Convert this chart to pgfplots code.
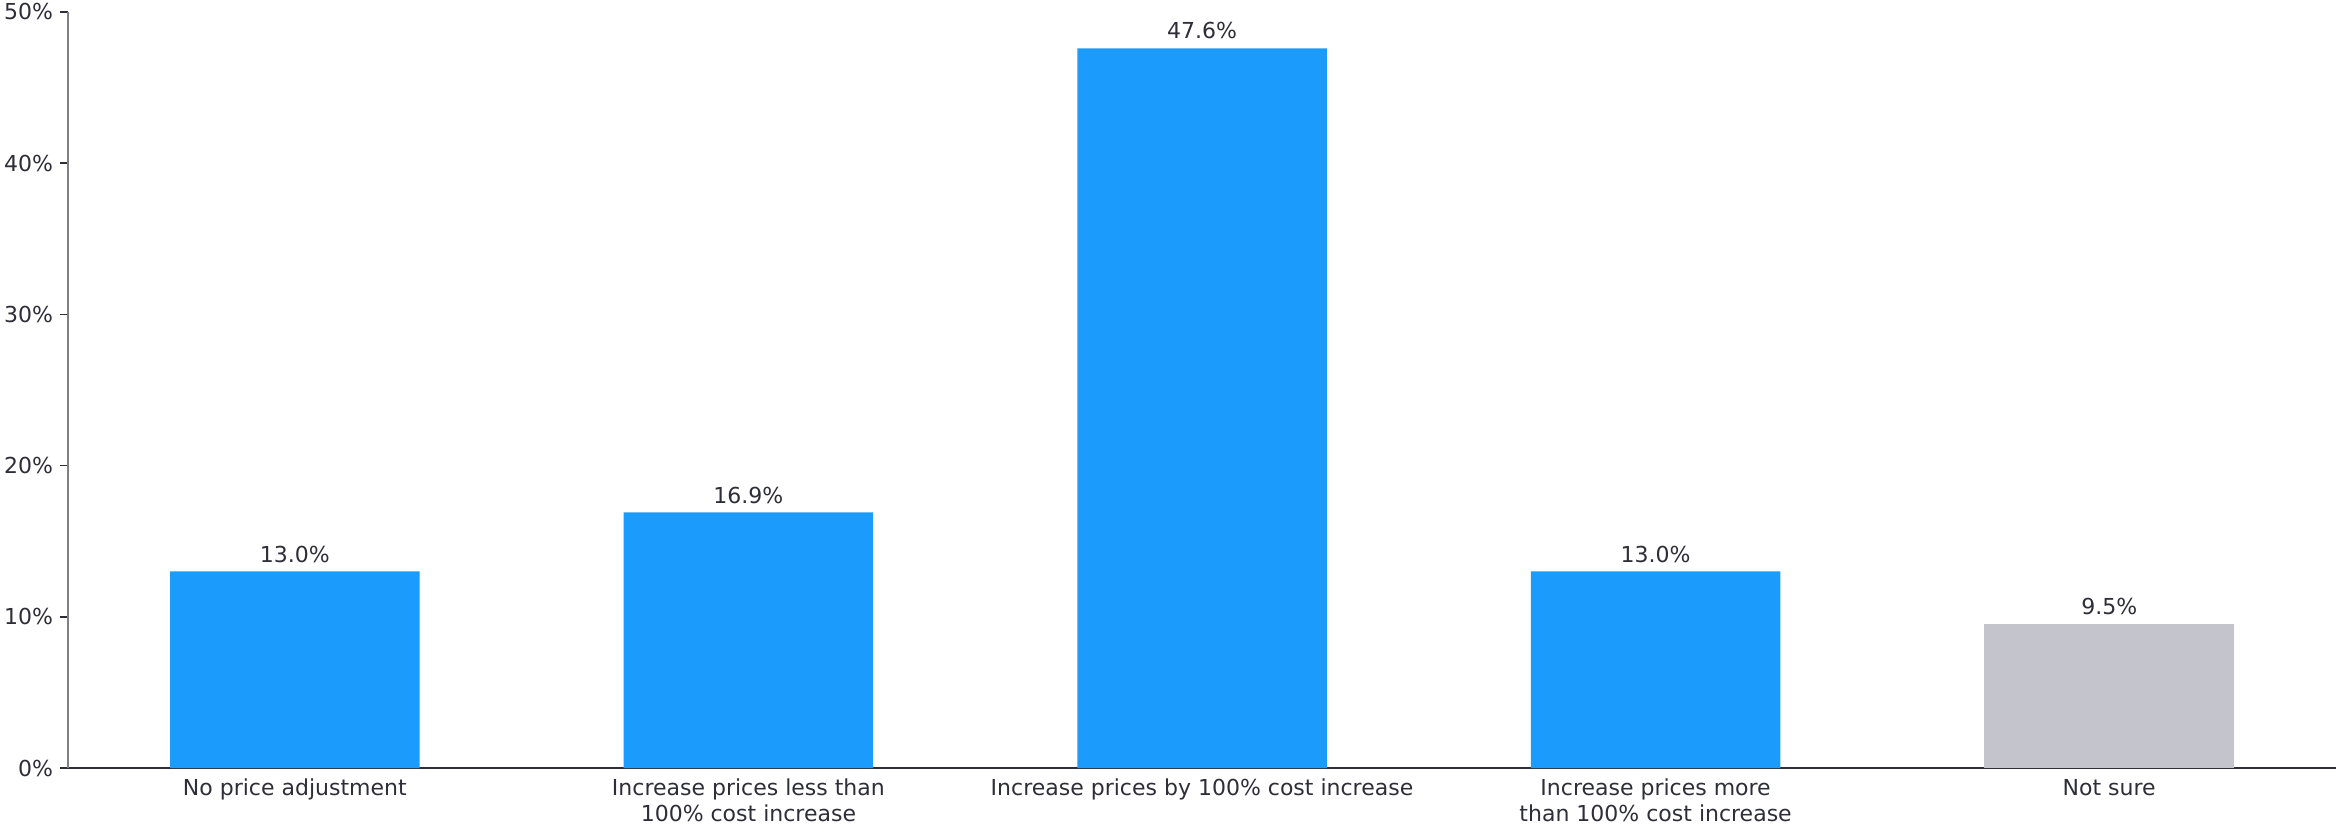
\documentclass[border=0pt]{standalone}
\usepackage{pgfplots}
\pgfplotsset{compat=1.18}
\usepackage{fontspec}
\setmainfont{DejaVu Sans}
\definecolor{barblue}{HTML}{1B9BFB}
\definecolor{bargray}{HTML}{C4C4CC}
\definecolor{txt}{HTML}{2E2E38}
\definecolor{yaxis}{HTML}{808080}
\begin{document}
\begin{tikzpicture}
\begin{axis}[
  scale only axis,
  width=1134pt, height=378pt,
  xmin=-0.5, xmax=4.5,
  ymin=0, ymax=50,
  axis x line*=bottom,
  axis y line*=left,
  x axis line style={draw=txt, line width=0.9pt, -},
  y axis line style={draw=yaxis, line width=1.2pt, -},
  font=\fontsize{11}{13}\selectfont,
  /pgf/number format/assume math mode=true,
  ytick={0,10,20,30,40,50},
  yticklabel={\pgfmathprintnumber{\tick}\%},
  yticklabel style={text=txt},
  tick align=outside,
  major tick length=4pt,
  major y tick style={draw=txt, line width=0.7pt},
  xtick={0,1,2,3,4},
  major x tick style={draw=none},
  xticklabels={No price adjustment, {Increase prices less than\\100\% cost increase}, Increase prices by 100\% cost increase, {Increase prices more\\than 100\% cost increase}, Not sure},
  xticklabel style={text=txt, align=center, yshift=2pt},
  ybar, bar width=0.55, bar shift=0pt,
  nodes near coords={\pgfmathprintnumber[fixed,fixed zerofill,precision=1]{\pgfplotspointmeta}\%},
  every node near coord/.append style={text=txt, font=\fontsize{11}{13}\selectfont, yshift=1pt},
  clip=false,
]
\addplot[fill=barblue, draw=none] coordinates {(0,13.0) (1,16.9) (2,47.6) (3,13.0)};
\addplot[fill=bargray, draw=none] coordinates {(4,9.5)};
\end{axis}
\pgfresetboundingbox
\path (current axis.south west) ++(-34pt,-32pt) coordinate (bbA);
\path (current axis.north east) ++(0pt,6pt) coordinate (bbB);
\useasboundingbox (bbA) rectangle (bbB);
\end{tikzpicture}
\end{document}
